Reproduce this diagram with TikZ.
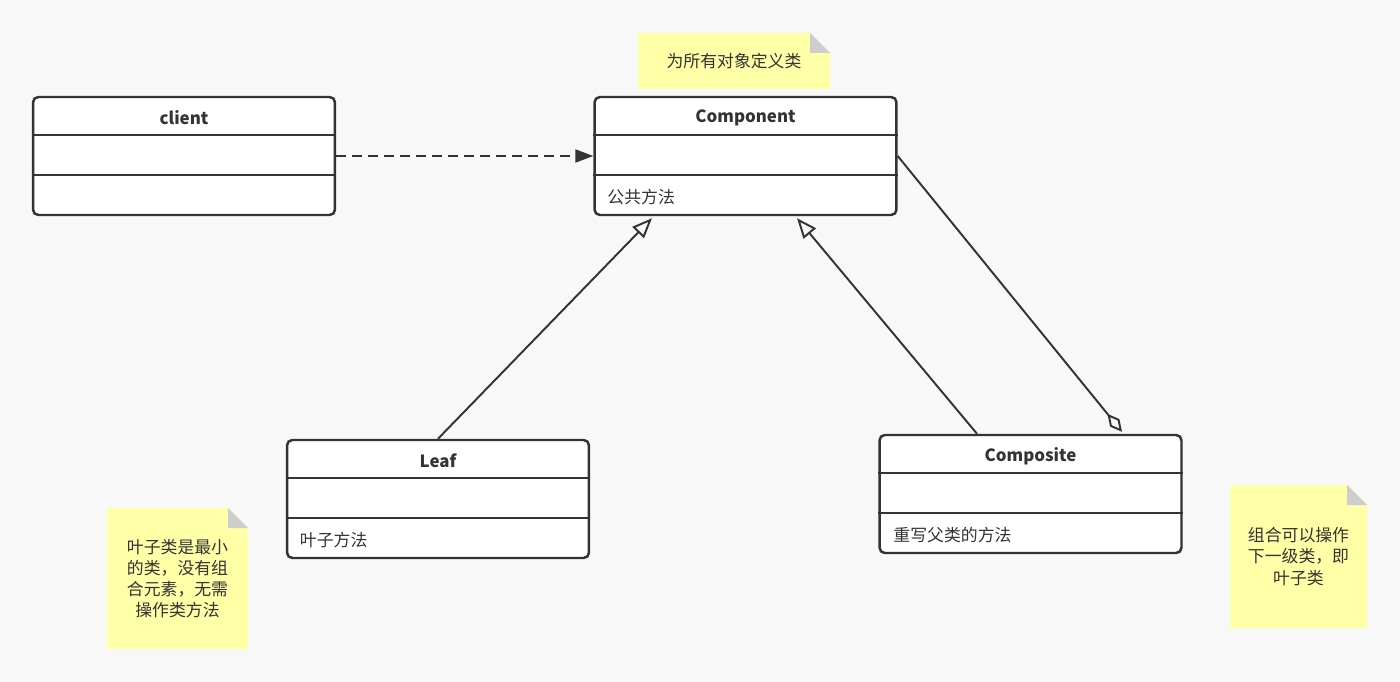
\documentclass[tikz,border=0pt]{standalone}
\usepackage{fontspec}
\setmainfont{Noto Sans CJK SC}
\usetikzlibrary{arrows.meta,calc}

\definecolor{bgcol}{HTML}{F8F8F8}
\definecolor{inkcol}{HTML}{333333}
\definecolor{notecol}{HTML}{FFFFA8}
\definecolor{foldcol}{HTML}{CDCDCD}

\newcommand{\stickynote}[6]{%
  \fill[notecol] (#2,#3) -- (#4-20,#3) -- (#4,#3+20) -- (#4,#5) -- (#2,#5) -- cycle;
  \fill[foldcol] (#4-20,#3) -- (#4-20,#3+20) -- (#4,#3+20) -- cycle;
  \node[notetext] (#1) at ({(#2+#4)/2},{(#3+#5)/2}) {#6};}

\begin{document}
\begin{tikzpicture}[x=0.02cm, y=-0.02cm, line width=1.3pt,
    classbox/.style={draw=inkcol, fill=white, rounded corners=3pt, line width=1.4pt,
      minimum width=6.04cm, minimum height=2.36cm, inner sep=0pt},
    classtitle/.style={font=\fontsize{9.6}{11}\selectfont\bfseries, text=inkcol},
    methodtext/.style={font=\fontsize{9.6}{11}\selectfont, text=inkcol, anchor=west, inner sep=0pt},
    notetext/.style={font=\fontsize{9.6}{12}\selectfont, text=inkcol, align=center},
    link/.style={draw=inkcol, line width=1.1pt},
    inherit/.style={link, -{Triangle[open, length=0.4cm, width=0.32cm]}},
    depend/.style={link, dash pattern=on 0.2cm off 0.12cm, -{Triangle[length=0.36cm, width=0.26cm]}},
    aggreg/.style={link, -{Diamond[open, length=0.46cm, width=0.24cm]}}]
  \useasboundingbox[fill=bgcol] (0,0) rectangle (1400,682);

  % classes
  \foreach \nm/\cx/\cy/\ttl in {client/184/156/client, comp/745.5/156/Component,
      leaf/438/499/Leaf, compo/1030.5/494/Composite} {
    \node[classbox] (\nm) at (\cx,\cy) {};
    \node[classtitle] (\nm-title) at ($(\nm.north)+(0,22)$) {\ttl};
    \draw[inkcol] ($(\nm.north west)+(0,39)$) -- ($(\nm.north east)+(0,39)$);
    \draw[inkcol] ($(\nm.north west)+(0,79)$) -- ($(\nm.north east)+(0,79)$);
  }
  \node[methodtext] (comp-op) at ($(comp.north west)+(13,101.5)$) {公共方法};
  \node[methodtext] (leaf-op) at ($(leaf.north west)+(13,101.5)$) {叶子方法};
  \node[methodtext] (compo-op) at ($(compo.north west)+(14,101.5)$) {重写父类的方法};

  % relations
  \draw[depend] (client.east) -- (comp.west);
  \draw[inherit] (leaf.north) -- ($(comp.south)+(-93.5,2)$);
  \draw[inherit] ($(compo.north)+(-53.5,0)$) -- ($(comp.south)+(51.5,2)$);
  \draw[aggreg] (comp.east) -- ($(compo.north)+(91.5,-2)$);

  % notes
  \stickynote{note-comp}{638}{33}{830}{89}{为所有对象定义类}
  \stickynote{note-leaf}{107}{508}{248}{649}{叶子类是最小\\的类，没有组\\合元素，无需\\操作类方法}
  \stickynote{note-compo}{1230}{485}{1367}{628}{组合可以操作\\下一级类，即\\叶子类}
\end{tikzpicture}
\end{document}
